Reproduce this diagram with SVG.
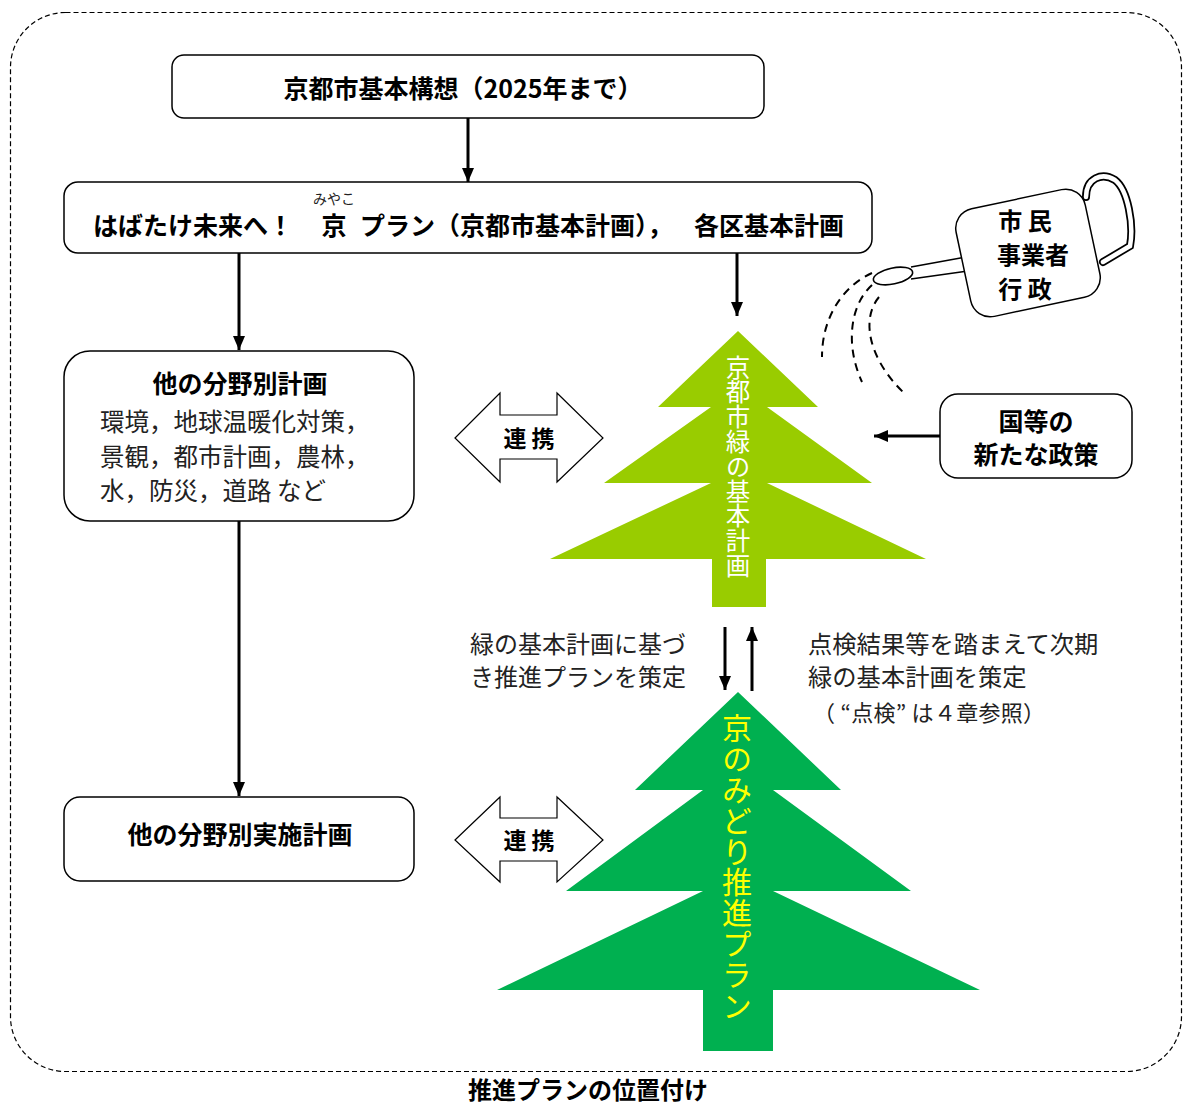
<svg xmlns="http://www.w3.org/2000/svg" width="1183" height="1106" viewBox="0 0 1183 1106">
  <defs>
    <marker id="ah" viewBox="0 0 14 12" refX="14" refY="6" markerWidth="14" markerHeight="12" markerUnits="userSpaceOnUse" orient="auto">
      <path d="M0,0 L14,6 L0,12 z" fill="#000"/>
    </marker>
    <style>
      .box { fill: #fff; stroke: #000; stroke-width: 1.5; }
      .b { font-family: "Noto Sans CJK JP", "Noto Sans", sans-serif; font-weight: 700; fill: #000; }
      .r { font-family: "Noto Sans CJK JP", "Noto Sans", sans-serif; font-weight: 400; fill: #222; }
      .conn { stroke: #000; stroke-width: 3; fill: none; }
      .dbl { fill: #fff; stroke: #000; stroke-width: 1.2; }
      .water { stroke: #000; stroke-width: 2; fill: none; stroke-dasharray: 8 6; }
      .vt { writing-mode: vertical-rl; font-family: "Noto Sans CJK JP", sans-serif; }
    </style>
  </defs>

  <rect width="1183" height="1106" fill="#fff"/>

  <!-- outer dashed frame -->
  <rect x="10.5" y="12.5" width="1171" height="1059" rx="55" fill="none" stroke="#000" stroke-width="1.2" stroke-dasharray="5 3"/>

  <!-- connectors -->
  <g id="connectors">
    <line class="conn" x1="468" y1="118" x2="468" y2="182" marker-end="url(#ah)"/>
    <line class="conn" x1="239" y1="253" x2="239" y2="350" marker-end="url(#ah)"/>
    <line class="conn" x1="737" y1="253" x2="737" y2="316" marker-end="url(#ah)"/>
    <line class="conn" x1="239" y1="521" x2="239" y2="796" marker-end="url(#ah)"/>
    <line class="conn" x1="940" y1="436" x2="874" y2="436" marker-end="url(#ah)"/>
    <line class="conn" x1="725" y1="627" x2="725" y2="690" marker-end="url(#ah)"/>
    <line class="conn" x1="752" y1="691" x2="752" y2="627" marker-end="url(#ah)"/>
    <!-- two-way links -->
    <path class="dbl" d="M455,438 L500,393 L500,415 L557,415 L557,393 L603,438 L557,482 L557,459 L500,459 L500,482 Z"/>
    <text class="b" x="529" y="447" font-size="23" text-anchor="middle">連 携</text>
    <path class="dbl" d="M455,840 L500,797 L500,818 L557,818 L557,797 L603,840 L557,882 L557,861 L500,861 L500,882 Z"/>
    <text class="b" x="529" y="849" font-size="23" text-anchor="middle">連 携</text>
  </g>

  <!-- basic concept -->
  <g id="concept">
    <rect class="box" x="172" y="55" width="592" height="63" rx="12"/>
    <text class="b" x="463" y="98" font-size="25" text-anchor="middle">京都市基本構想（2025年まで）</text>
  </g>

  <!-- city basic plan -->
  <g id="city-plan">
    <rect class="box" x="64" y="182" width="808" height="71" rx="14"/>
    <text class="r" x="334" y="204" font-size="14" text-anchor="middle" fill="#000">みやこ</text>
    <text class="b" x="93" y="235" font-size="25">はばたけ未来へ！</text>
    <text class="b" x="334" y="235" font-size="25" text-anchor="middle">京</text>
    <text class="b" x="360" y="235" font-size="25">プラン（京都市基本計画），</text>
    <text class="b" x="844" y="235" font-size="25" text-anchor="end">各区基本計画</text>
  </g>

  <!-- other sector plans -->
  <g id="sector-plans">
    <rect class="box" x="64" y="351" width="350" height="170" rx="26"/>
    <text class="b" x="240" y="393" font-size="25" text-anchor="middle">他の分野別計画</text>
    <text class="r" x="100" y="431" font-size="24.5">環境，地球温暖化対策，</text>
    <text class="r" x="100" y="466" font-size="24.5">景観，都市計画，農林，</text>
    <text class="r" x="100" y="500" font-size="24.5">水，防災，道路 など</text>
  </g>

  <!-- other sector implementation plans -->
  <g id="sector-impl">
    <rect class="box" x="64" y="797" width="350" height="84" rx="16"/>
    <text class="b" x="240" y="844" font-size="25" text-anchor="middle">他の分野別実施計画</text>
  </g>

  <!-- green master plan tree -->
  <g id="green-plan">
    <polygon fill="#99CC00" points="738,331 658,407 711,407 604,483 711,483 550,559 712,559 712,607 766,607 766,559 926,559 767,483 872,483 767,407 818,407"/>
    <text class="vt" x="738" y="355" font-size="24.5" fill="#fff" letter-spacing="0.3">京都市緑の基本計画</text>
  </g>

  <!-- promotion plan tree -->
  <g id="promotion-plan">
    <polygon fill="#00B050" points="738,692 635,790 703,790 566,891 703,891 497,990 703,990 703,1051 773,1051 773,990 980,990 773,891 911,891 773,790 841,790"/>
    <text class="vt" x="737" y="713" font-size="30" fill="#FFFF00" letter-spacing="0.8">京のみどり推進プラン</text>
  </g>

  <!-- notes between trees -->
  <g id="notes">
    <text class="r" x="470" y="653" font-size="24">緑の基本計画に基づ</text>
    <text class="r" x="470" y="686" font-size="24">き推進プランを策定</text>
    <text class="r" x="808" y="653" font-size="24.3">点検結果等を踏まえて次期</text>
    <text class="r" x="808" y="686" font-size="24.3">緑の基本計画を策定</text>
    <text class="r" x="813" y="721" font-size="22" textLength="232">（ “点検” は４章参照）</text>
  </g>

  <!-- national policies -->
  <g id="national">
    <rect class="box" x="940" y="394" width="192" height="84" rx="18"/>
    <text class="b" x="1036" y="431" font-size="25" text-anchor="middle">国等の</text>
    <text class="b" x="1036" y="464" font-size="25" text-anchor="middle">新たな政策</text>
  </g>

  <!-- watering can: citizens, businesses, administration -->
  <g id="actors">
    <path d="M1086,197 C1086,178 1102,172 1115,180 C1128,190 1134,225 1130,246 L1103,262" fill="none" stroke="#000" stroke-width="8" stroke-linecap="round"/>
    <path d="M1086,197 C1086,178 1102,172 1115,180 C1128,190 1134,225 1130,246 L1103,262" fill="none" stroke="#fff" stroke-width="4.5" stroke-linecap="round"/>
    <path d="M966,257 L911,267 M968,271 L911,279" stroke="#000" stroke-width="1.6" fill="none"/>
    <rect class="box" x="962" y="198" width="132" height="110" rx="20" transform="rotate(-12 1028 253)" stroke-width="2"/>
    <ellipse cx="893" cy="276" rx="20" ry="8" transform="rotate(-12 893 276)" fill="#fff" stroke="#000" stroke-width="1.6"/>
    <text class="b" x="1025" y="230" font-size="24" text-anchor="middle">市 民</text>
    <text class="b" x="1033" y="264" font-size="24" text-anchor="middle">事業者</text>
    <text class="b" x="1025" y="298" font-size="24" text-anchor="middle">行 政</text>
    <path class="water" d="M872,273 C845,285 822,315 822,357"/>
    <path class="water" d="M872,285 C850,305 845,345 862,382"/>
    <path class="water" d="M879,297 C860,320 870,360 903,392"/>
  </g>

  <text class="b" x="588" y="1099" font-size="24" text-anchor="middle">推進プランの位置付け</text>
</svg>
